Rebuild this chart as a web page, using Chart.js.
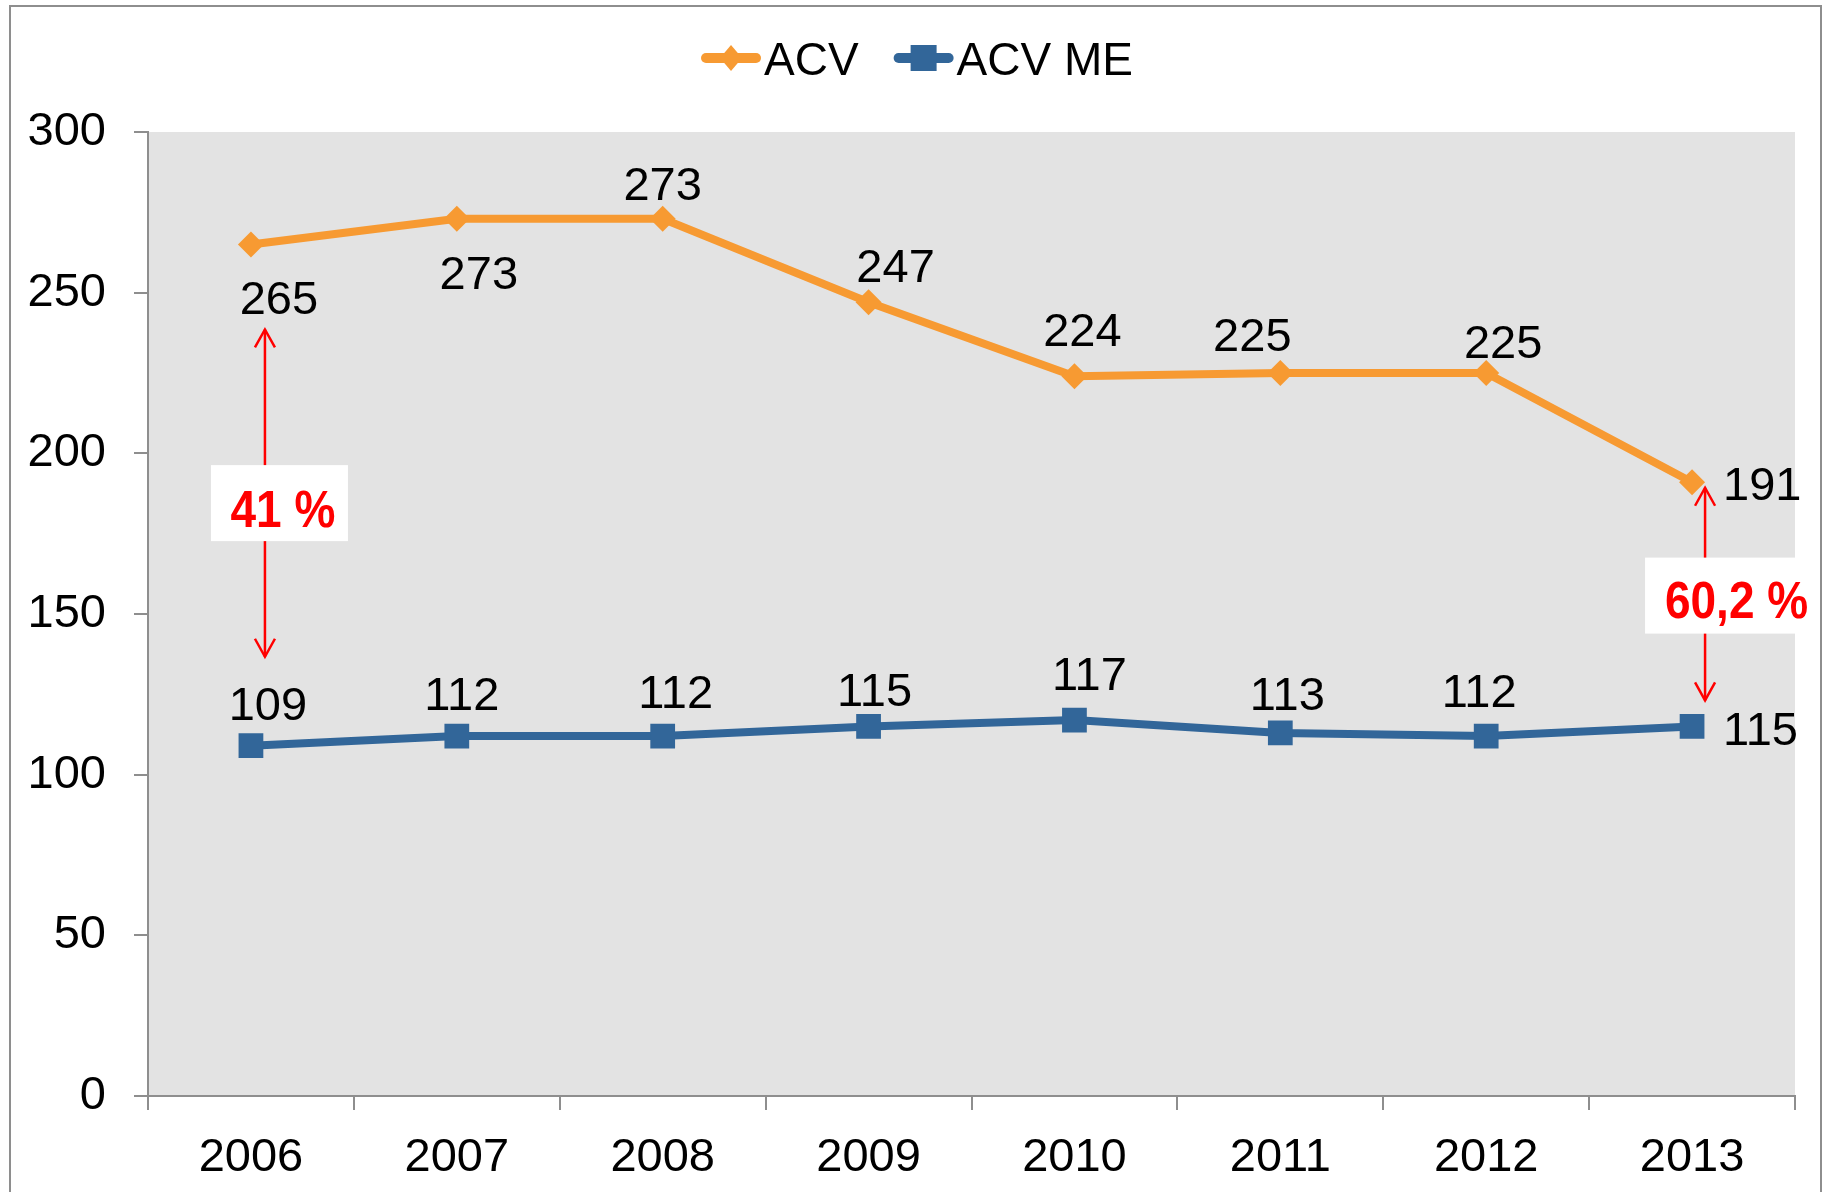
<!DOCTYPE html>
<html><head><meta charset="utf-8">
<script src="https://cdn.jsdelivr.net/npm/chart.js@4.4.1/dist/chart.umd.min.js"></script>
<style>html,body{margin:0;padding:0;background:#fff;overflow:hidden}#wrap{width:1824px;height:1192px;position:relative}</style>
</head><body><div id="wrap"><canvas id="c" width="1824" height="1192"></canvas></div>
<script>
// ---- data ----
const years = ['2006','2007','2008','2009','2010','2011','2012','2013'];
const acv = [265, 273, 273, 247, 224, 225, 225, 191];
const acvMe = [109, 112, 112, 115, 117, 113, 112, 115];
const seriesNames = ['ACV', 'ACV ME'];
const yTickValues = [0, 50, 100, 150, 200, 250, 300];
const gapLabels = ['41 %', '60,2 %'];
const gapCategories = [0, 7];

// ---- label placement (layout only) ----
const acvLabelOffsets = [[28,53,'center'],[22,53,'center'],[0,-36,'center'],[27,-37,'center'],[8,-47,'center'],[-28,-39,'center'],[17,-32,'center'],[31,1,'left']];
const meLabelOffsets = [[17,-43,'center'],[5,-43,'center'],[13,-45,'center'],[6,-37,'center'],[15,-47,'center'],[7,-40,'center'],[-7,-46,'center'],[31,2,'left']];
// arrow: dx, top offset from ACV point, bottom offset from ME point; box: center dx, dy from arrow mid, w, h; text dx, dy
const gapLayout = [
  {dx:14, top:85, bottom:-89, bx:28.5, by:10, bw:137, bh:76, tx:32, ty:15},
  {dx:13, top:5.5, bottom:-26, bx:28.5, by:1.5, bw:151, bh:76, tx:44.5, ty:5}
];

const FONT = '"Liberation Sans", Arial, sans-serif';
const FS = 47;
const ORANGE = '#F79A32';
const BLUE = '#326699';
const GRAY = '#8e8e8e';

const bgPlugin = {
  id: 'bg',
  beforeDraw(chart) {
    const {ctx, chartArea: a} = chart;
    ctx.save();
    ctx.fillStyle = '#e3e3e3';
    ctx.fillRect(a.left, a.top, a.right - a.left, a.bottom - a.top);
    ctx.restore();
  }
};

function drawArrowHead(ctx, x, y, dir) {
  ctx.beginPath();
  ctx.moveTo(x - 10, y + dir * 18);
  ctx.lineTo(x, y);
  ctx.lineTo(x + 10, y + dir * 18);
  ctx.stroke();
}

const annotPlugin = {
  id: 'annot',
  afterDatasetsDraw(chart) {
    const ctx = chart.ctx;
    const m0 = chart.getDatasetMeta(0).data;
    const m1 = chart.getDatasetMeta(1).data;
    gapCategories.forEach((ci, k) => {
      const L = gapLayout[k];
      const x = m0[ci].x + L.dx;
      const y1 = m0[ci].y + L.top;
      const y2 = m1[ci].y + L.bottom;
      ctx.save();
      ctx.strokeStyle = '#ff0000';
      ctx.lineWidth = 2.5;
      ctx.beginPath(); ctx.moveTo(x, y1); ctx.lineTo(x, y2); ctx.stroke();
      drawArrowHead(ctx, x, y1, 1);
      drawArrowHead(ctx, x, y2, -1);
      const mid = (y1 + y2) / 2;
      const cx = m0[ci].x + L.bx, cy = mid + L.by;
      ctx.fillStyle = '#ffffff';
      ctx.fillRect(cx - L.bw / 2, cy - L.bh / 2, L.bw, L.bh);
      ctx.fillStyle = '#ff0000';
      ctx.font = 'bold 46px ' + FONT;
      ctx.textAlign = 'center';
      ctx.textBaseline = 'alphabetic';
      const tx = m0[ci].x + L.tx, ty = mid + L.ty;
      ctx.translate(tx, ty);
      ctx.scale(1, 1.12);
      ctx.fillText(gapLabels[k], 0, 16.5);
      ctx.restore();
    });
    ctx.save();
    ctx.font = FS + 'px ' + FONT;
    ctx.fillStyle = '#000';
    ctx.textBaseline = 'alphabetic';
    const doLabels = (meta, vals, offs) => {
      meta.forEach((p, i) => {
        const o = offs[i];
        ctx.textAlign = o[2];
        ctx.fillText(String(vals[i]), p.x + o[0], p.y + o[1] + 16.8);
      });
    };
    doLabels(m0, acv, acvLabelOffsets);
    doLabels(m1, acvMe, meLabelOffsets);
    ctx.restore();
  },
  afterDraw(chart) {
    const ctx = chart.ctx;
    ctx.save();
    ctx.font = '46px ' + FONT;
    const lineLen = 60, gapText = 3, gapItems = 35;
    const w0 = ctx.measureText(seriesNames[0]).width;
    const w1 = ctx.measureText(seriesNames[1]).width;
    const total = lineLen + gapText + w0 + gapItems + lineLen + gapText + w1;
    let x = (chart.width) / 2 - total / 2 + 5;
    const y = 58;
    const items = [[ORANGE, 'diamond', seriesNames[0], w0], [BLUE, 'square', seriesNames[1], w1]];
    items.forEach(([col, shape, name, w]) => {
      ctx.strokeStyle = col;
      ctx.fillStyle = col;
      ctx.lineWidth = 10;
      ctx.lineCap = 'round';
      ctx.beginPath(); ctx.moveTo(x + 5, y); ctx.lineTo(x + lineLen - 5, y); ctx.stroke();
      const cx = x + lineLen / 2;
      ctx.beginPath();
      if (shape === 'diamond') {
        ctx.moveTo(cx, y - 13); ctx.lineTo(cx + 11, y); ctx.lineTo(cx, y + 13); ctx.lineTo(cx - 11, y); ctx.closePath();
      } else {
        ctx.rect(cx - 13, y - 13, 26, 26);
      }
      ctx.fill();
      ctx.fillStyle = '#000';
      ctx.textAlign = 'left';
      ctx.textBaseline = 'alphabetic';
      ctx.fillText(name, x + lineLen + gapText, y + 16.5);
      x += lineLen + gapText + w + gapItems;
    });
    ctx.strokeStyle = GRAY;
    ctx.lineWidth = 2;
    ctx.strokeRect(10, 6, 1811, 1210);
    ctx.restore();
  }
};

new Chart(document.getElementById('c'), {
  type: 'line',
  data: {
    labels: years,
    datasets: [
      {label: seriesNames[0], data: acv, borderColor: ORANGE, backgroundColor: ORANGE, borderWidth: 8,
       pointStyle: 'rectRot', pointRadius: 13, pointBorderWidth: 0, pointBackgroundColor: ORANGE, tension: 0},
      {label: seriesNames[1], data: acvMe, borderColor: BLUE, backgroundColor: BLUE, borderWidth: 8,
       pointStyle: 'rect', pointRadius: 17.5, pointBorderWidth: 0, pointBackgroundColor: BLUE, tension: 0}
    ]
  },
  options: {
    responsive: false,
    animation: false,
    layout: {padding: {top: 132, right: 29, left: 0, bottom: 0}},
    plugins: {legend: {display: false}, tooltip: {enabled: false}},
    scales: {
      x: {
        type: 'category',
        offset: true,
        grid: {offset: true, drawOnChartArea: false, tickLength: 14, color: GRAY, lineWidth: 2},
        border: {color: GRAY, width: 2},
        ticks: {font: {size: FS, family: FONT}, color: '#000', padding: 20, maxRotation: 0, autoSkip: false},
        afterFit(s) { s.height = 96; }
      },
      y: {
        min: 0, max: 300,
        afterBuildTicks(s) { s.ticks = yTickValues.map(v => ({value: v})); },
        grid: {drawOnChartArea: false, tickLength: 14, color: GRAY, lineWidth: 2},
        border: {color: GRAY, width: 2},
        ticks: {font: {size: FS, family: FONT}, color: '#000', padding: 28},
        afterFit(s) { s.width = 148; }
      }
    }
  },
  plugins: [bgPlugin, annotPlugin]
});
</script></body></html>
